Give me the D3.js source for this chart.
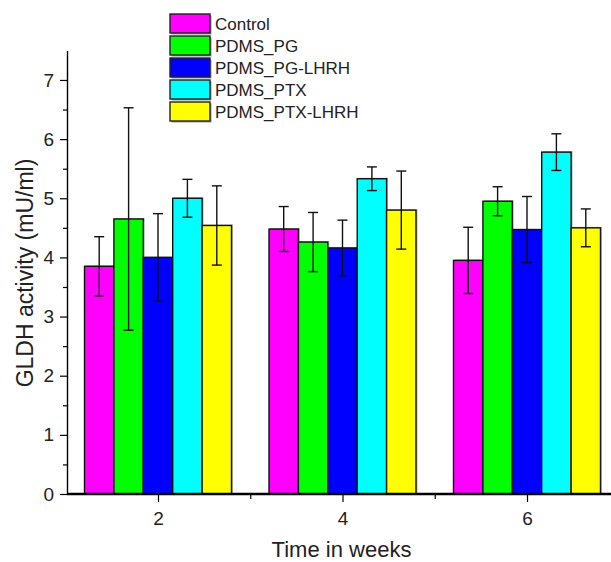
<!DOCTYPE html>
<meta charset="utf-8">
<style>
  body { margin: 0; background: #fff; }
  text { font-family: Arial, "Liberation Sans", sans-serif; fill: #222; }
  .axis .domain { stroke: #000; }
  .axis .tick line { stroke: #000; stroke-width: 1.2; }
</style>
<body>
<script src="https://cdn.jsdelivr.net/npm/d3@7"></script>
<script>
  var weeks = [2, 4, 6];
  var series = ["Control", "PDMS_PG", "PDMS_PG-LHRH", "PDMS_PTX", "PDMS_PTX-LHRH"];
  var colors = ["#ff00ff", "#00ff00", "#0000ff", "#00ffff", "#ffff00"];
  // mean values per series, one per week
  var means = [
    [3.85, 4.48, 3.95],
    [4.65, 4.26, 4.95],
    [4.00, 4.16, 4.47],
    [5.00, 5.33, 5.78],
    [4.54, 4.80, 4.50]
  ];
  var errors = [
    [0.50, 0.38, 0.56],
    [1.88, 0.50, 0.245],
    [0.74, 0.47, 0.56],
    [0.32, 0.20, 0.31],
    [0.67, 0.66, 0.32]
  ];
  var yMajor = [0, 1, 2, 3, 4, 5, 6, 7];
  var yMinor = [0.5, 1.5, 2.5, 3.5, 4.5, 5.5, 6.5];
  var xMajor = [2, 4, 6];
  var xMinor = [3, 5];

  var width = 611, height = 562;
  var svg = d3.select("body").append("svg")
    .attr("width", width)
    .attr("height", height);

  var x = d3.scaleLinear().domain([2, 6]).range([158, 527]);
  var y = d3.scaleLinear().domain([0, 7.5]).range([494, 50.4]);
  var x0 = 67, x1 = 611;
  var barW = 0.3187; // in weeks

  // bars
  series.forEach(function (s, i) {
    var g = svg.append("g").attr("class", "series");
    var d = weeks.map(function (w, j) { return { w: w, v: means[i][j], e: errors[i][j] }; });

    // faint shadow like the original plot
    g.selectAll("rect.sh").data(d).enter().append("rect")
      .attr("class", "sh")
      .attr("x", function (p) { return x(p.w + (i - 2.5) * barW) + 1.5; })
      .attr("width", x(barW) - x(0))
      .attr("y", function (p) { return y(p.v) - 1; })
      .attr("height", function (p) { return y(0) - y(p.v); })
      .attr("fill", "#bbb");

    g.selectAll("rect.bar").data(d).enter().append("rect")
      .attr("class", "bar")
      .attr("x", function (p) { return x(p.w + (i - 2.5) * barW); })
      .attr("width", x(barW) - x(0))
      .attr("y", function (p) { return y(p.v); })
      .attr("height", function (p) { return y(0) - y(p.v); })
      .attr("fill", colors[i])
      .attr("stroke", "#111")
      .attr("stroke-width", 1.4);
  });

  // error bars
  series.forEach(function (s, i) {
    var g = svg.append("g").attr("class", "err");
    var d = weeks.map(function (w, j) { return { w: w, v: means[i][j], e: errors[i][j] }; });
    var cx = function (p) { return x(p.w + (i - 2) * barW); };
    g.selectAll("line.v").data(d).enter().append("line")
      .attr("x1", cx).attr("x2", cx)
      .attr("y1", function (p) { return y(p.v + p.e); })
      .attr("y2", function (p) { return y(p.v - p.e); })
      .attr("stroke", "#111").attr("stroke-width", 1.4);
    [1, -1].forEach(function (sg) {
      g.selectAll("line.c" + sg).data(d).enter().append("line")
        .attr("x1", function (p) { return cx(p) - 5; })
        .attr("x2", function (p) { return cx(p) + 5; })
        .attr("y1", function (p) { return y(p.v + sg * p.e); })
        .attr("y2", function (p) { return y(p.v + sg * p.e); })
        .attr("stroke", "#111").attr("stroke-width", 1.4);
    });
  });

  // y axis
  var yAxis = svg.append("g").attr("class", "axis")
    .attr("transform", "translate(" + x0 + ",0)")
    .call(d3.axisLeft(y).tickValues(yMajor).tickSize(7).tickSizeOuter(0).tickPadding(6).tickFormat(d3.format("d")));
  yAxis.select(".domain").attr("stroke-width", 1.4);
  yAxis.selectAll("text").style("font-size", "19px").attr("fill", "#222");
  svg.append("g").attr("class", "axis")
    .attr("transform", "translate(" + x0 + ",0)")
    .call(d3.axisLeft(y).tickValues(yMinor).tickSize(4).tickFormat(""))
    .select(".domain").remove();

  // x axis
  var xAxis = svg.append("g").attr("class", "axis")
    .attr("transform", "translate(0," + y(0) + ")")
    .call(d3.axisBottom(x).tickValues(xMajor).tickSize(8).tickSizeOuter(0).tickPadding(10).tickFormat(d3.format("d")));
  xAxis.select(".domain").remove();
  xAxis.append("line")
    .attr("x1", x0).attr("x2", x1)
    .attr("stroke", "#000").attr("stroke-width", 2.6);
  xAxis.selectAll("text").style("font-size", "19px").attr("fill", "#222");
  svg.append("g").attr("class", "axis")
    .attr("transform", "translate(0," + y(0) + ")")
    .call(d3.axisBottom(x).tickValues(xMinor).tickSize(5).tickFormat(""))
    .select(".domain").remove();

  // axis titles
  svg.append("text")
    .attr("x", 341.5).attr("y", 556.5)
    .attr("text-anchor", "middle")
    .style("font-size", "22px")
    .text("Time in weeks");
  svg.append("text")
    .attr("transform", "translate(33,273) rotate(-90)")
    .attr("text-anchor", "middle")
    .style("font-size", "23px")
    .text("GLDH activity (mU/ml)");

  // legend
  var legend = svg.append("g").attr("transform", "translate(170,14)");
  var item = legend.selectAll("g").data(series).enter().append("g")
    .attr("transform", function (d, i) { return "translate(0," + i * 22 + ")"; });
  item.append("rect")
    .attr("x", 1.5).attr("y", 1.5).attr("width", 40).attr("height", 19)
    .attr("fill", "#999");
  item.append("rect")
    .attr("width", 40).attr("height", 19)
    .attr("fill", function (d, i) { return colors[i]; })
    .attr("stroke", "#222").attr("stroke-width", 1.4);
  item.append("text")
    .attr("x", 45).attr("y", 10)
    .attr("dy", "0.35em")
    .style("font-size", "17px")
    .text(function (d) { return d; });
</script>
</body>
